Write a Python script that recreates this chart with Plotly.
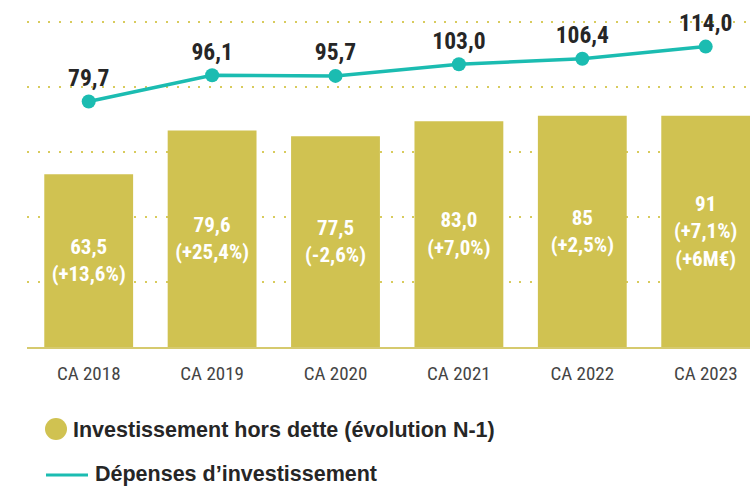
import plotly.graph_objects as go

categories = ["CA 2018", "CA 2019", "CA 2020", "CA 2021", "CA 2022", "CA 2023"]
# Bar heights as drawn in the reference (the 2023 bar is drawn at the 2022 height)
bar_values = [63.5, 79.6, 77.5, 83.0, 85.0, 85.0]
bar_labels = ["63,5<br>(+13,6%)", "79,6<br>(+25,4%)", "77,5<br>(-2,6%)",
              "83,0<br>(+7,0%)", "85<br>(+2,5%)", "91<br>(+7,1%)<br>(+6M€)"]
line_values = [79.7, 96.1, 95.7, 103.0, 106.4, 114.0]
line_labels = ["79,7", "96,1", "95,7", "103,0", "106,4", "114,0"]
legend_names = ["Investissement hors dette (évolution N-1)", "Dépenses d’investissement"]

OLIVE = "#D0C251"
TEAL = "#1BBCB1"
DARK = "#262626"
NARROW = "Liberation Sans Narrow, Roboto Condensed, Roboto, sans-serif"
SANS = "Liberation Sans, Arial, sans-serif"

W, H = 750, 486
L, R, T, B = 27, 0, 0, 139
pw, ph = W - L - R, H - T - B

def px(x):
    return (x - L) / pw

def py(y):
    return (H - B - y) / ph

fig = go.Figure()
fig.add_trace(go.Bar(
    x=categories, y=bar_values, marker_color=OLIVE, marker_line_width=0,
    text=bar_labels, textposition="inside", insidetextanchor="middle",
    textangle=0, constraintext="none",
    textfont=dict(family=NARROW, size=21, color="white", weight="bold"),
    showlegend=False, hoverinfo="skip"))
fig.add_trace(go.Scatter(
    x=categories, y=line_values, yaxis="y2", mode="lines+markers+text",
    line=dict(color=TEAL, width=3.5), marker=dict(color=TEAL, size=14),
    text=line_labels, textposition="top center",
    textfont=dict(family=NARROW, size=23.5, color=DARK, weight="bold"),
    showlegend=False, hoverinfo="skip", cliponaxis=False))

scale = 2.72  # px per unit for bars
b2, a2 = 1.6, 229.0  # px per unit and offset for the line axis
fig.update_layout(
    width=W, height=H, margin=dict(l=L, r=R, t=T, b=B),
    paper_bgcolor="white", plot_bgcolor="white",
    bargap=0.28,
    xaxis=dict(range=[-0.5, -0.5 + pw / 123.4], showgrid=False,
               showline=True, linecolor="#D6CA6E", linewidth=1.5,
               ticks="", tickfont=dict(family=NARROW, size=19, color="#444444"),
               ticklabelstandoff=8),
    yaxis=dict(range=[0, ph / scale], dtick=65 / scale, tick0=0,
               showgrid=True, gridcolor="#D8CB5C", gridwidth=2,
               griddash="2px,8.7px", zeroline=False, showticklabels=False),
    yaxis2=dict(range=[(a2 - ph) / b2, a2 / b2], overlaying="y", visible=False),
)

shapes = [
    dict(type="circle", xref="paper", yref="paper",
         x0=px(45), x1=px(67), y0=py(440), y1=py(418),
         fillcolor=OLIVE, line_width=0),
    dict(type="line", xref="paper", yref="paper",
         x0=px(46), x1=px(88), y0=py(475), y1=py(475),
         line=dict(color=TEAL, width=3)),
]
annotations = [
    dict(text=legend_names[0], xref="paper", yref="paper", x=px(71), y=py(430),
         xanchor="left", yanchor="middle", showarrow=False,
         font=dict(family=SANS, size=21.5, color=DARK, weight="bold")),
    dict(text=legend_names[1], xref="paper", yref="paper", x=px(93), y=py(474),
         xanchor="left", yanchor="middle", showarrow=False,
         font=dict(family=SANS, size=21.5, color=DARK, weight="bold")),
]
fig.update_layout(shapes=shapes, annotations=annotations)
fig.write_html("out.html", config={"displayModeBar": False},
               post_script="document.body.style.margin='0px';")
